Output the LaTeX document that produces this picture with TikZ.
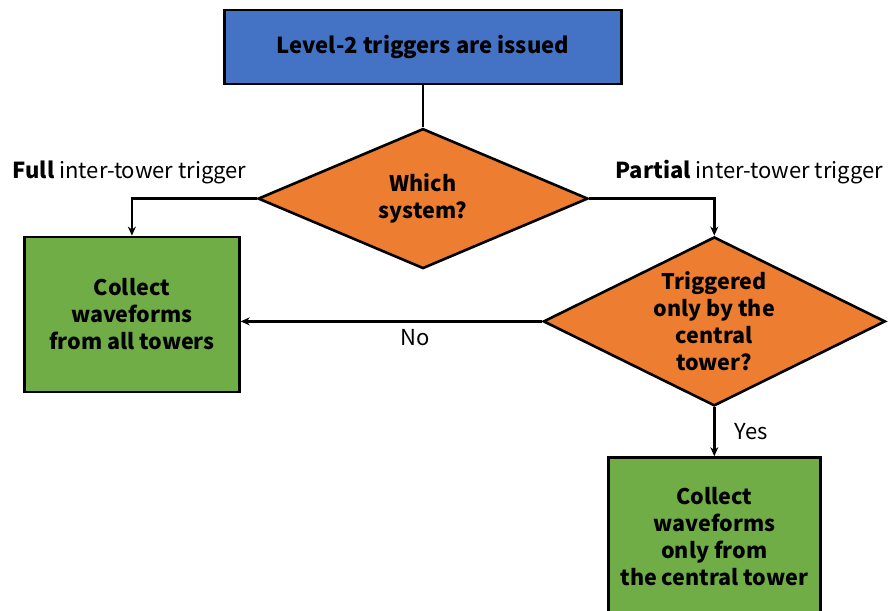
\documentclass[tikz,border=0pt]{standalone}
\usepackage{fontspec}
\setmainfont{Noto Sans CJK JP}
\usetikzlibrary{arrows.meta,positioning,shapes.geometric}

\definecolor{stepblue}{HTML}{4472C4}
\definecolor{askorange}{HTML}{ED7D31}
\definecolor{actgreen}{HTML}{70AD47}

\begin{document}
\begin{tikzpicture}[
  font=\fontsize{22}{27}\selectfont,
  node distance=37pt,
  start/.style={draw,line width=2.6pt,fill=stepblue,minimum width=397pt,minimum height=74pt,font=\fontsize{22}{27}\selectfont\bfseries},
  ask/.style={draw,diamond,line width=2.6pt,fill=askorange,inner sep=0pt,align=center,font=\fontsize{21.5}{27}\selectfont\bfseries},
  collect/.style={draw,line width=2.6pt,fill=actgreen,align=center,font=\fontsize{21.5}{27}\selectfont\bfseries},
  flow/.style={line width=2.4pt,-{Stealth[length=9pt,width=8pt]}},
  tag/.style={inner sep=0pt}
]
  \useasboundingbox (0pt,0pt) rectangle (888pt,-610pt);

  \node[start] (issued) at (423pt,-47pt) {Level-2 triggers are issued};
  \node[ask,shape aspect=2.36,minimum width=330pt,minimum height=140pt,below=42pt of issued] (which) {Which\\system?};
  \node[collect,minimum width=215pt,minimum height=155pt,below left=37pt and 16pt of which.west] (full) {Collect\\waveforms\\from all towers};
  \node[ask,shape aspect=2.02,minimum width=342pt,minimum height=169pt,below=37pt of which.east,xshift=125pt] (partial) {Triggered\\only by the\\central\\tower?};
  \node[collect,minimum width=212pt,minimum height=158pt,below=49pt of partial] (only) {Collect\\waveforms\\only from\\the central tower};

  \node[tag,above left=14pt and 10pt of which.west] (fulltag) {\textbf{Full} inter-tower trigger};
  \node[tag,above right=14pt and 26pt of which.east] (parttag) {\textbf{Partial} inter-tower trigger};

  \draw[line width=2.4pt] (issued) -- (which);
  \draw[flow] (which.west) -| (full);
  \draw[flow] (which.east) -| (partial);
  \draw[flow] (partial) -- node[pos=0.42,below=3pt] {No} (partial -| full.east);
  \draw[flow] (partial) -- node[right=16pt] {Yes} (only);
\end{tikzpicture}
\end{document}
